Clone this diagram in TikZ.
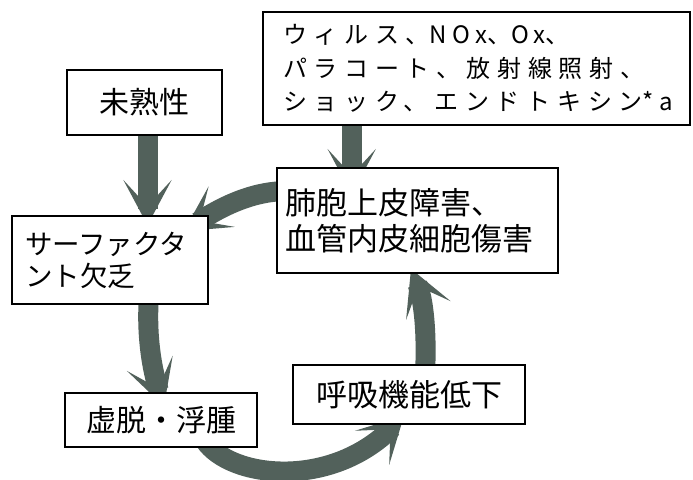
\documentclass[tikz,border=0pt]{standalone}
\usepackage{fontspec}
\setmainfont{Noto Sans CJK JP}
\newfontfamily\jpwide{Noto Sans CJK JP}[LetterSpace=28]
\newfontfamily\jplat{Noto Sans CJK JP}[LetterSpace=22]
\newcommand{\lat}[1]{{\jplat #1}}
\usetikzlibrary{arrows.meta,backgrounds,calc}
\definecolor{arrowgray}{RGB}{82,97,91}
\begin{document}
\begin{tikzpicture}[x=1pt,y=1pt,
  box/.style={draw=black, line width=1.6pt, fill=white, inner sep=0pt},
  flow/.style={draw=arrowgray, line width=20pt, -{Stealth[length=45pt,width=48pt,inset=26pt]}}]
\useasboundingbox (0,0) rectangle (693,479);
\node[box, minimum width=155pt, minimum height=65pt, font=\fontsize{30}{36}\selectfont] (mij) at (144.5,376.5) {未熟性};
\node[box, minimum height=113pt, text width=387pt, inner xsep=20pt, align=left, font=\jpwide\fontsize{24}{33.5}\selectfont] (causes) at (476.5,410.5) {ウィルス、\lat{NOx}、\lat{Ox}、\\パラコート、放射線照射、\\ショック、エンドトキシン\lat{*a}};
\node[box, minimum height=105pt, text width=265pt, inner xsep=8pt, align=left, font=\fontsize{31}{36}\selectfont] (hai) at (417.5,258.5) {肺胞上皮障害、\\血管内皮細胞傷害};
\node[box, minimum height=88pt, text width=170pt, inner xsep=13pt, align=left, font=\fontsize{27.5}{32}\selectfont] (surf) at (110,219) {サーファクタ\\ント欠乏};
\node[box, minimum width=192pt, minimum height=54pt, font=\fontsize{30}{36}\selectfont] (kyo) at (161,59) {虚脱・浮腫};
\node[box, minimum width=232pt, minimum height=59pt, font=\fontsize{31}{36}\selectfont] (koki) at (409,84.5) {呼吸機能低下};
\begin{scope}[on background layer]
\fill[white] (0,0) rectangle (693,479);
\draw[flow] ($(mij.south)+(3,0)$) -- ($(surf.north)+(37.5,-10)$);
\draw[flow] ($(causes.south west)+(89.5,0)$) -- ($(hai.north west)+(75.5,-27)$);
\draw[flow] ($(hai.north west)+(13,-24)$) .. controls (250,289) and (215,268) .. ($(surf.north east)+(-25,-16)$);
\draw[flow] ($(surf.south)+(39,9)$) .. controls (146,144) and (152,109) .. ($(kyo.north)+(3,-14)$);
\draw[flow] ($(kyo.south)+(44,7)$) .. controls (230,1) and (330,-11) .. ($(koki.south)+(-5,9)$);
\draw[flow] ($(koki.north)+(16,-10)$) .. controls (427,144) and (424,179) .. ($(hai.south)+(-6.5,5)$);
\end{scope}
\end{tikzpicture}
\end{document}
